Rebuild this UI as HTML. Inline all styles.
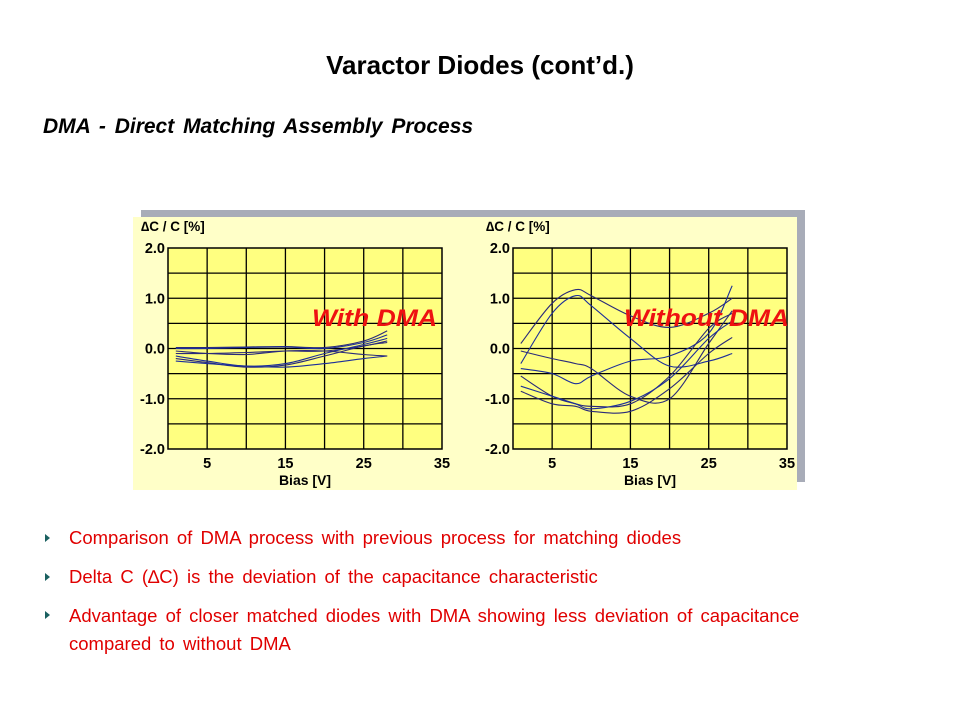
<!DOCTYPE html>
<html><head><meta charset="utf-8"><style>
body{margin:0;width:960px;height:720px;background:#fff;position:relative;overflow:hidden;font-family:"Liberation Sans",sans-serif}
.t{position:absolute;white-space:nowrap}
.b{position:absolute;left:69px;color:#e00000;font-size:18.5px;word-spacing:3px;white-space:nowrap}
.m{position:absolute;left:45px;width:0;height:0;border-left:5px solid #1a6060;border-top:4px solid transparent;border-bottom:4px solid transparent}
</style></head><body>
<div class="t" style="left:0;width:960px;text-align:center;top:50px;font-size:26px;font-weight:bold">Varactor Diodes (cont’d.)</div>
<div class="t" style="left:43px;top:115px;font-size:21px;word-spacing:3px;font-weight:bold;font-style:italic">DMA - Direct Matching Assembly Process</div>
<svg id="chart" style="position:absolute;left:0;top:0" width="960" height="720"></svg>
<div class="m" style="top:534px"></div>
<div class="b" style="top:527px">Comparison of DMA process with previous process for matching diodes</div>
<div class="m" style="top:573px"></div>
<div class="b" style="top:566px">Delta C (∆C) is the deviation of the capacitance characteristic</div>
<div class="m" style="top:611px"></div>
<div class="b" style="top:602px;line-height:28px">Advantage of closer matched diodes with DMA showing less deviation of capacitance<br>compared to without DMA</div>
<script>
const xTicks=[5,15,25,35];
const yTicks=[2.0,1.0,0.0,-1.0,-2.0];
const biasPts=[1,5,10,15,20,25,28];
const dmaA=[0.02,0.02,0.03,0.04,0.02,0.15,0.35];
const dmaB=[0.0,0.0,0.02,0.03,0.0,0.12,0.27];
const dmaC=[-0.1,-0.1,-0.08,-0.05,-0.05,0.05,0.15];
const dmaD=[-0.15,-0.25,-0.35,-0.3,-0.1,0.08,0.2];
const dmaE=[-0.2,-0.28,-0.37,-0.33,-0.15,0.05,0.12];
const dmaF=[-0.25,-0.3,-0.35,-0.37,-0.3,-0.2,-0.15];
const dmaG=[-0.05,-0.1,-0.12,-0.05,-0.05,-0.12,-0.15];
const biasPts2=[1,5,8,10,15,20,25,28];
const noA=[0.1,0.9,1.17,1.05,0.65,0.42,0.7,1.0];
const noB=[-0.3,0.7,1.05,0.85,0.2,-0.35,-0.25,-0.1];
const noC=[-0.05,-0.2,-0.3,-0.4,-0.95,-1.0,0.1,0.75];
const noD=[-0.4,-0.5,-0.7,-0.55,-0.25,-0.15,0.3,1.25];
const noE=[-0.55,-0.95,-1.1,-1.15,-1.1,-0.55,0.4,0.7];
const noF=[-0.75,-0.95,-1.1,-1.2,-1.05,-0.6,0.2,0.55];
const noG=[-0.85,-1.1,-1.15,-1.25,-1.25,-0.8,-0.1,0.22];
const svg=document.getElementById('chart');
const NS='http://www.w3.org/2000/svg';
function mk(t,a,p){const e=document.createElementNS(NS,t);for(const k in a)e.setAttribute(k,a[k]);(p||svg).appendChild(e);return e;}
function smooth(P){let d='M'+P[0][0].toFixed(1)+' '+P[0][1].toFixed(1);
  for(let i=0;i<P.length-1;i++){const p0=P[i-1]||P[i],p1=P[i],p2=P[i+1],p3=P[i+2]||p2;
    const c1=[p1[0]+(p2[0]-p0[0])/6,p1[1]+(p2[1]-p0[1])/6],c2=[p2[0]-(p3[0]-p1[0])/6,p2[1]-(p3[1]-p1[1])/6];
    d+=` C${c1[0].toFixed(1)} ${c1[1].toFixed(1)} ${c2[0].toFixed(1)} ${c2[1].toFixed(1)} ${p2[0].toFixed(1)} ${p2[1].toFixed(1)}`;}
  return d;}
let r=mk('rect',{x:141,y:210,width:664,height:272,fill:'#a8acb8'});


r=mk('rect',{x:133,y:217,width:664,height:273,fill:'#ffffc8'});


function plot(x0,label,xs,series,lx,lw,name){
  const x1=x0+274,y0=248,y1=449;
  const sx=v=>x0+v*(x1-x0)/35, sy=v=>y0+(2-v)*(y1-y0)/4;
  const g=mk('g',{});
  
  
  mk('rect',{x:x0,y:y0,width:x1-x0,height:y1-y0,fill:'#ffff80',stroke:'#000','stroke-width':1.5},g);
  for(let v=5;v<35;v+=5)mk('line',{x1:sx(v),x2:sx(v),y1:y0,y2:y1,stroke:'#000','stroke-width':1.3},g);
  for(let v=-1.5;v<2;v+=0.5)mk('line',{x1:x0,x2:x1,y1:sy(v),y2:sy(v),stroke:'#000','stroke-width':1.3},g);
  yTicks.forEach(v=>{const t=mk('text',{x:x0-3,y:sy(v)+5,'text-anchor':'end','font-size':14.5,'font-weight':'bold','font-family':'Liberation Sans'},g);t.textContent=v.toFixed(1);
    
    });
  xTicks.forEach(v=>{const t=mk('text',{x:sx(v),y:468,'text-anchor':'middle','font-size':14.5,'font-weight':'bold','font-family':'Liberation Sans'},g);t.textContent=v;
    
    });
  let t=mk('text',{x:sx(17.5),y:485,'text-anchor':'middle','font-size':14,'font-weight':'bold','font-family':'Liberation Sans'},g);t.textContent='Bias [V]';
  
  
  t=mk('text',{x:x0-27,y:231,'font-size':13.5,'font-weight':'bold','font-family':'Liberation Sans'},g);t.textContent='∆C / C [%]';
  
  
  series.forEach((s,i)=>{
    const P=s.map((v,j)=>[sx(xs[j]),sy(v)]);
    const p=mk('path',{d:smooth(P),fill:'none',stroke:i%2?'#1c2e9a':'#2a2a7a','stroke-width':1.1},g);
    
    
  });
  t=mk('text',{x:lx,y:326,'font-size':24,'font-weight':'bold','font-style':'italic',fill:'#ee1111','font-family':'Liberation Sans',textLength:lw,lengthAdjust:'spacingAndGlyphs'},g);t.textContent=label;
  
  
}
plot(168,'With DMA',biasPts,[dmaA,dmaB,dmaC,dmaD,dmaE,dmaF,dmaG],312,125,'with-dma-chart');
plot(513,'Without DMA',biasPts2,[noA,noB,noC,noD,noE,noF,noG],624,165,'without-dma-chart');
</script>
</body></html>
